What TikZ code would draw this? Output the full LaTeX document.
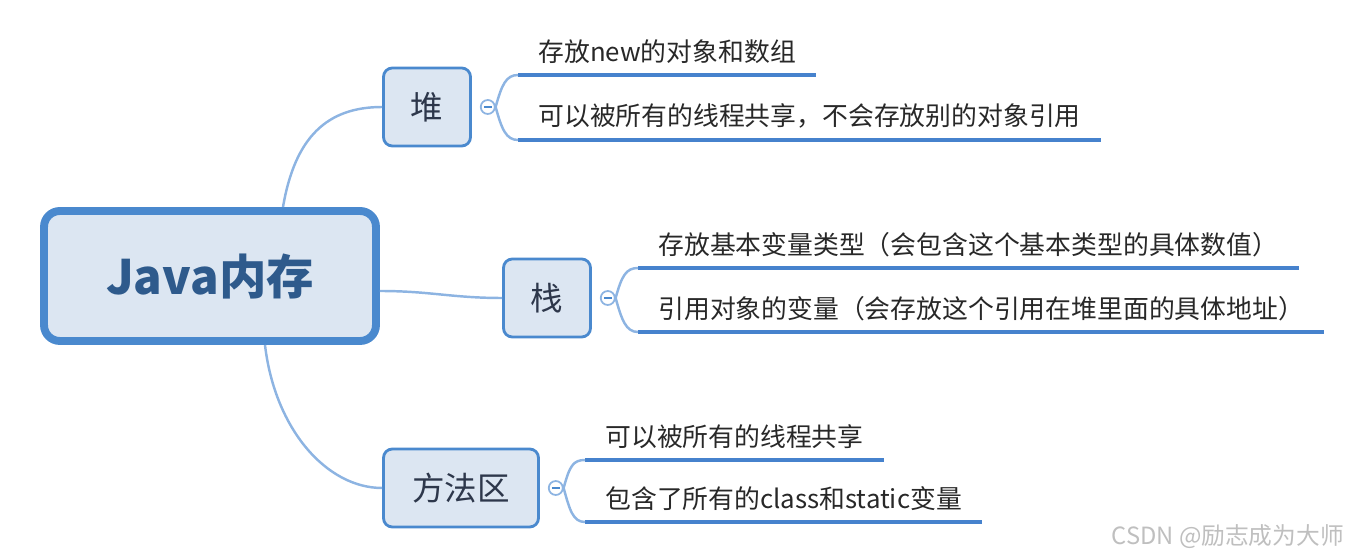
\documentclass[tikz,border=0pt]{standalone}
\usepackage{fontspec}
\setmainfont{Noto Sans CJK SC}
\usetikzlibrary{positioning}
\definecolor{boxblue}{RGB}{74,137,206}
\definecolor{boxfill}{RGB}{220,230,242}
\definecolor{rootText}{RGB}{46,90,140}
\definecolor{topicText}{RGB}{45,55,75}
\definecolor{linkblue}{RGB}{141,180,226}
\definecolor{lineblue}{RGB}{70,130,205}
\definecolor{leafText}{RGB}{40,40,40}

\begin{document}
\begin{tikzpicture}[x=0.02cm, y=-0.02cm,
    rootbox/.style={draw=boxblue, line width=4.5pt, fill=boxfill, rounded corners=9pt,
        minimum width=6.64cm, minimum height=2.6cm, text=rootText,
        font=\fontsize{27}{30}\selectfont\bfseries},
    topic/.style={draw=boxblue, line width=1.6pt, fill=boxfill, rounded corners=5pt,
        minimum width=1.74cm, minimum height=1.56cm, text=topicText,
        font=\fontsize{18.5}{22}\selectfont},
    fold/.style={circle, draw=linkblue, line width=1pt, fill=white, minimum size=0.28cm, inner sep=0pt,
        path picture={\draw[boxblue, line width=0.8pt]
            ([xshift=-2.2pt]path picture bounding box.center) -- ([xshift=2.2pt]path picture bounding box.center);}},
    leaf/.style={anchor=south west, inner xsep=0.4cm, inner ysep=0.22cm, text=leafText,
        font=\fontsize{14.7}{17}\selectfont},
    link/.style={draw=linkblue, line width=1.4pt},
    uline/.style={draw=lineblue, line width=2.4pt}]
    \useasboundingbox (0,0) rectangle (1353,560);

    % Main topic
    \node[rootbox] (root) at (210,276) {Java内存};

    % Sub topics
    \node[topic] (heap) at (427,107) {堆};
    \node[topic] (stack) at (547,298) {栈};
    \node[topic, minimum width=3.1cm] (method) at (461,488) {方法区};

    \draw[link] ([xshift=1.46cm]root.north) .. controls +(12,-70) and +(-55,0) .. (heap.west);
    \draw[link] ([yshift=-0.3cm]root.east) .. controls +(50,0) and +(-50,0) .. (stack.west);
    \draw[link] ([xshift=1.1cm]root.south) .. controls +(10,85) and +(-55,0) .. (method.west);

    % Fold buttons
    \node[fold, right=0.16cm of heap] (heapFold) {};
    \node[fold, right=0.16cm of stack] (stackFold) {};
    \node[fold, right=0.16cm of method] (methodFold) {};

    % Leaves
    \node[leaf] (heapA) at (518,75) {存放new的对象和数组};
    \node[leaf] (heapB) at (518,140) {可以被所有的线程共享，不会存放别的对象引用};
    \node[leaf] (stackA) at (638,268) {存放基本变量类型（会包含这个基本类型的具体数值）};
    \node[leaf] (stackB) at (638,332) {引用对象的变量（会存放这个引用在堆里面的具体地址）};
    \node[leaf] (methodA) at (585,460) {可以被所有的线程共享};
    \node[leaf] (methodB) at (585,522) {包含了所有的class和static变量};

    \foreach \n in {heapA,heapB,stackA,stackB,methodA,methodB}
        \draw[uline] (\n.south west) -- (\n.south east);

    % Brackets
    \foreach \f/\a/\b in {heapFold/heapA/heapB, stackFold/stackA/stackB, methodFold/methodA/methodB} {
        \draw[link] (\f.east) .. controls +(6,-22) and +(-12,0) .. (\a.south west);
        \draw[link] (\f.east) .. controls +(6,22) and +(-12,0) .. (\b.south west);
    }

    \node[text=black!25, font=\fontsize{13.5}{15}\selectfont, anchor=east] (mark) at (1350,537) {CSDN @励志成为大师};
\end{tikzpicture}
\end{document}
